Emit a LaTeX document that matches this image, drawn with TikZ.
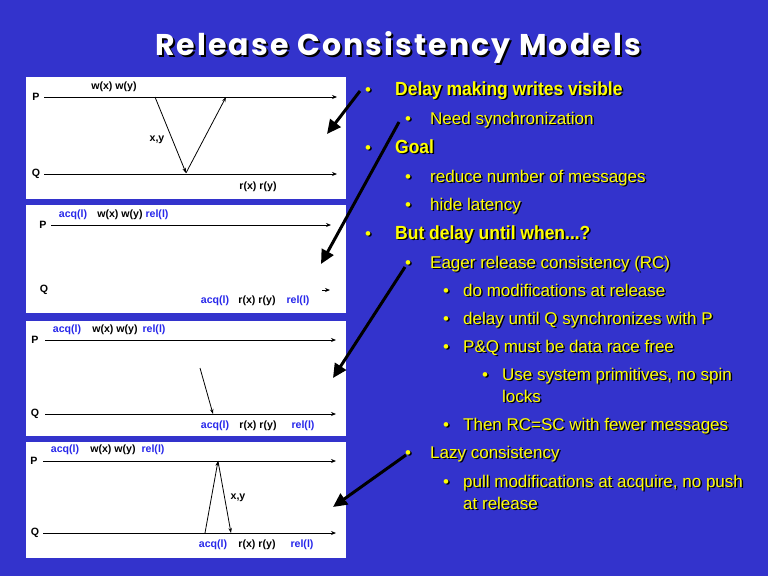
\documentclass[tikz,border=0pt]{standalone}
\usepackage{fontspec}
\usetikzlibrary{arrows.meta}
\setmainfont{Liberation Sans}
\newfontfamily\titlefont{Poppins}[LetterSpace=7]
\newfontfamily\headfont{Liberation Sans}[FakeStretch=0.92]
\definecolor{bg}{RGB}{51,51,204}
\definecolor{ylw}{RGB}{255,255,0}
\definecolor{lblue}{RGB}{40,40,235}
\newcommand\Lone{\headfont\bfseries\fontsize{19}{22}\selectfont}
\newcommand\Ltwo{\fontsize{17}{20}\selectfont}
\newcommand\pfont{\bfseries\fontsize{10.6}{12}\selectfont}
\newcommand\sh[6][base west]{%
  \node[sht,anchor=#1,font=#5,text=black] at ({#3+1.5},{#4+1.5}) {#6};
  \node[sht,anchor=#1,font=#5,text=ylw] (#2) at (#3,#4) {#6};}
\tikzset{
  sht/.style={inner sep=0pt},
  ptxt/.style={inner sep=0pt,font=\pfont,text=black},
  pblue/.style={inner sep=0pt,font=\pfont,text=lblue},
  tl/.style={line width=0.8pt,-{Stealth[length=5pt,width=4pt]}},
  msg/.style={line width=0.8pt,-{Stealth[length=5pt,width=3.5pt]}},
  big/.style={line width=3pt,-{Triangle[length=14pt,width=13pt]}},
  panel/.style={fill=white}
}
\begin{document}
\begin{tikzpicture}[x=1pt,y=-1pt]
\fill[bg] (0,0) rectangle (768,576);
\useasboundingbox (0,0) rectangle (768,576);
% title
\node[inner sep=0pt,anchor=base,font=\titlefont\bfseries\fontsize{30}{34}\selectfont,text=black] at (400,57) {Release Consistency Models};
\node[inner sep=0pt,anchor=base,font=\titlefont\bfseries\fontsize{30}{34}\selectfont,text=white] (title) at (398,55) {Release Consistency Models};
% panels
\fill[panel] (26,77) rectangle (346,199);
\fill[panel] (26,205) rectangle (346,313);
\fill[panel] (26,321) rectangle (346,436);
\fill[panel] (26,442) rectangle (346,558);
% panel 1
\node[ptxt] (P1) at (36,97) {P};
\node[ptxt] (Q1) at (36,174) {Q};
\coordinate (P1a) at (44,97); \coordinate (P1b) at (337,97);
\coordinate (Q1a) at (44,174); \coordinate (Q1b) at (337,174);
\draw[tl] (P1a) -- (P1b);
\draw[tl] (Q1a) -- (Q1b);
\coordinate (m1a) at (155,97); \coordinate (m1b) at (186,173); \coordinate (m1c) at (226,97);
\draw[msg] (m1a) -- (m1b);
\draw[msg] (m1b) -- (m1c);
\node[ptxt] (w1) at (114,87) {w(x) w(y)};
\node[ptxt] (xy1) at (157,140) {x,y};
\node[ptxt] (r1) at (258,187) {r(x) r(y)};
% panel 2
\node[pblue] (a2) at (73,215) {acq(l)};
\node[ptxt] (w2) at (120,215) {w(x) w(y)};
\node[pblue] (rl2) at (157,215) {rel(l)};
\node[ptxt] (P2) at (43,225) {P};
\node[ptxt] (Q2) at (44,290) {Q};
\coordinate (P2a) at (51,225); \coordinate (P2b) at (331,225);
\draw[tl] (P2a) -- (P2b);
\coordinate (Q2a) at (322,290); \coordinate (Q2b) at (330,290);
\draw[tl] (Q2a) -- (Q2b);
\node[pblue] (a2q) at (215,301) {acq(l)};
\node[ptxt] (r2) at (257,301) {r(x) r(y)};
\node[pblue] (rl2q) at (298,301) {rel(l)};
% panel 3
\node[pblue] (a3) at (67,330) {acq(l)};
\node[ptxt] (w3) at (115,330) {w(x) w(y)};
\node[pblue] (rl3) at (154,330) {rel(l)};
\node[ptxt] (P3) at (35,340) {P};
\node[ptxt] (Q3) at (35,414) {Q};
\coordinate (P3a) at (45,340); \coordinate (P3b) at (336,340);
\coordinate (Q3a) at (45,414); \coordinate (Q3b) at (336,414);
\draw[tl] (P3a) -- (P3b);
\draw[tl] (Q3a) -- (Q3b);
\coordinate (m3a) at (200,368); \coordinate (m3b) at (213,414);
\draw[msg] (m3a) -- (m3b);
\node[pblue] (a3q) at (215,426) {acq(l)};
\node[ptxt] (r3) at (258,426) {r(x) r(y)};
\node[pblue] (rl3q) at (303,426) {rel(l)};
% panel 4
\node[pblue] (a4) at (65,450) {acq(l)};
\node[ptxt] (w4) at (113,450) {w(x) w(y)};
\node[pblue] (rl4) at (153,450) {rel(l)};
\node[ptxt] (P4) at (34,461) {P};
\node[ptxt] (Q4) at (35,533) {Q};
\coordinate (P4a) at (43,461); \coordinate (P4b) at (336,461);
\coordinate (Q4a) at (43,533); \coordinate (Q4b) at (336,533);
\draw[tl] (P4a) -- (P4b);
\draw[tl] (Q4a) -- (Q4b);
\coordinate (m4a) at (205,533); \coordinate (m4b) at (218,461); \coordinate (m4c) at (231,533);
\draw[msg] (m4a) -- (m4b);
\draw[msg] (m4b) -- (m4c);
\node[ptxt] (xy4) at (238,498) {x,y};
\node[pblue] (a4q) at (213,545) {acq(l)};
\node[ptxt] (r4) at (257,545) {r(x) r(y)};
\node[pblue] (rl4q) at (302,545) {rel(l)};
% big arrows
\coordinate (A1s) at (360,91); \coordinate (A1e) at (327,134);
\coordinate (A2s) at (399,122); \coordinate (A2e) at (321,264);
\coordinate (A3s) at (405,267); \coordinate (A3e) at (333,378);
\coordinate (A4s) at (406,455); \coordinate (A4e) at (333,507);
\draw[big] (A1s) -- (A1e);
\draw[big] (A2s) -- (A2e);
\draw[big] (A3s) -- (A3e);
\draw[big] (A4s) -- (A4e);
% bullets text
\sh[base]{b1}{368}{95}{\Ltwo}{•}
\sh{t1}{395}{95}{\Lone}{Delay making writes visible}
\sh[base]{b2}{408}{124}{\Ltwo}{•}
\sh{t2}{430}{124}{\Ltwo}{Need synchronization}
\sh[base]{b3}{368}{153}{\Ltwo}{•}
\sh{t3}{395}{153}{\Lone}{Goal}
\sh[base]{b4}{408}{182}{\Ltwo}{•}
\sh{t4}{430}{182}{\Ltwo}{reduce number of messages}
\sh[base]{b5}{408}{210}{\Ltwo}{•}
\sh{t5}{430}{210}{\Ltwo}{hide latency}
\sh[base]{b6}{368}{239}{\Ltwo}{•}
\sh{t6}{395}{239}{\Lone}{But delay until when...?}
\sh[base]{b7}{408}{268}{\Ltwo}{•}
\sh{t7}{430}{268}{\Ltwo}{Eager release consistency (RC)}
\sh[base]{b8}{446}{296}{\Ltwo}{•}
\sh{t8}{463}{296}{\Ltwo}{do modifications at release}
\sh[base]{b9}{446}{324}{\Ltwo}{•}
\sh{t9}{463}{324}{\Ltwo}{delay until Q synchronizes with P}
\sh[base]{b10}{446}{352}{\Ltwo}{•}
\sh{t10}{463}{352}{\Ltwo}{P\&Q must be data race free}
\sh[base]{b11}{485}{380}{\Ltwo}{•}
\sh{t11}{502}{380}{\Ltwo}{Use system primitives, no spin}
\sh{t11b}{502}{402}{\Ltwo}{locks}
\sh[base]{b12}{446}{430}{\Ltwo}{•}
\sh{t12}{463}{430}{\Ltwo}{Then RC=SC with fewer messages}
\sh[base]{b13}{408}{458}{\Ltwo}{•}
\sh{t13}{430}{458}{\Ltwo}{Lazy consistency}
\sh[base]{b14}{446}{487}{\Ltwo}{•}
\sh{t14}{463}{487}{\Ltwo}{pull modifications at acquire, no push}
\sh{t14b}{463}{509}{\Ltwo}{at release}
\end{tikzpicture}
\end{document}
